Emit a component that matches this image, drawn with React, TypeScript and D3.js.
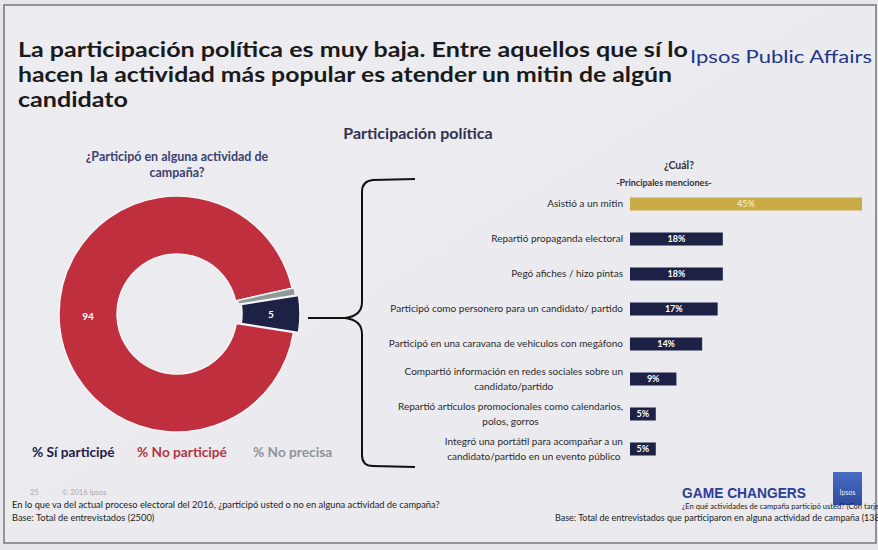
import React from "react";
import * as d3 from "d3";

// Donut: did the respondent take part in any campaign activity?
const donutLabels = ["% Sí participé", "% No participé", "% No precisa"];
const donutValues = [5, 94, 1];
const donutColors = ["#1d2146", "#bf2f3e", "#8d9c99"];
const legendColors = ["#1d2146", "#b5343f", "#8f9494"];

// Bars: main activities mentioned among participants
const activityLabels: string[][] = [
  ["Asistió a un mitin"],
  ["Repartió propaganda electoral"],
  ["Pegó afiches / hizo pintas"],
  ["Participó como personero para un candidato/ partido"],
  ["Participó en una caravana de vehiculos con megáfono"],
  ["Compartió información en redes sociales sobre un", "candidato/partido"],
  ["Repartió artículos promocionales como calendarios,", "polos, gorros"],
  ["Integró una portátil para acompañar a un", "candidato/partido en un evento público"],
];
const activityValues = [45, 18, 18, 17, 14, 9, 5, 5];

const titleLines = [
  "La participación política es muy baja. Entre aquellos que sí lo",
  "hacen la actividad más popular es atender un mitin de algún",
  "candidato",
];

const FONT = "Lato, 'Open Sans', sans-serif";

function measure(text: string, font: string): number {
  const c = document.createElement("canvas");
  const ctx = c.getContext("2d");
  if (!ctx) return text.length * 4.8;
  ctx.font = font;
  return ctx.measureText(text).width;
}

export default function App() {
  const W = 878;
  const H = 550;

  // donut geometry
  const cx = 177;
  const cy = 314;
  const outerR = 118;
  const innerR = 60;
  const deg = Math.PI / 180;
  const pie = d3
    .pie<number>()
    .sort(null)
    .startAngle(81 * deg)
    .endAngle(441 * deg);
  const arcs = pie(donutValues);
  const arc = d3.arc<d3.PieArcDatum<number>>().innerRadius(innerR).outerRadius(outerR);
  const explode = [5, 0, 2];

  // bar geometry
  const x = d3.scaleLinear().domain([0, 45]).range([630, 862]);
  const y = d3
    .scalePoint<number>()
    .domain(activityValues.map((_, i) => i))
    .range([204, 449]);
  const barH = 13;
  const labelRight = 623;
  const labelSize = 10;
  const labelFont = `${labelSize}px ${FONT}`;

  return (
    <svg
      width={W}
      height={H}
      style={{ position: "absolute", left: 0, top: 0 }}
      fontFamily={FONT}
    >
      <defs>
        <linearGradient id="bg" x1="0" y1="0" x2="1" y2="1">
          <stop offset="0" stopColor="#ededf1" />
          <stop offset="1" stopColor="#e9e9ee" />
        </linearGradient>
        <linearGradient id="logo" x1="0" y1="0" x2="0" y2="1">
          <stop offset="0" stopColor="#4a6cc0" />
          <stop offset="1" stopColor="#2f4c9e" />
        </linearGradient>
      </defs>
      <rect x={0} y={0} width={W} height={H} fill="#e6e6eb" />
      <rect x={4} y={5} width={872} height={538} fill="url(#bg)" stroke="#7d7d82" strokeWidth={1.6} />

      {/* headline */}
      {titleLines.map((t, i) => (
        <text
          key={i}
          x={18}
          y={57 + i * 25}
          fontSize={21}
          fontWeight={700}
          fill="#1a1a1a"
          textLength={i === 0 ? 670 : i === 1 ? 654 : 110}
          lengthAdjust="spacingAndGlyphs"
        >
          {t}
        </text>
      ))}
      <text x={690} y={63} fontSize={17.5} fill="#23368a" textLength={182} lengthAdjust="spacingAndGlyphs">
        Ipsos Public Affairs
      </text>

      <text x={418} y={139} fontSize={16} fontWeight={700} fill="#2f3350" textAnchor="middle">
        Participación política
      </text>

      {/* donut */}
      <text x={cx} y={161} fontSize={12.5} fontWeight={700} fill="#3b4170" textAnchor="middle">
        ¿Participó en alguna actividad de
      </text>
      <text x={cx} y={177} fontSize={12.5} fontWeight={700} fill="#3b4170" textAnchor="middle">
        campaña?
      </text>
      <g transform={`translate(${cx},${cy})`}>
        {arcs.map((a, i) => {
          const mid = (a.startAngle + a.endAngle) / 2;
          const dx = Math.sin(mid) * explode[i];
          const dy = -Math.cos(mid) * explode[i];
          return (
            <path
              key={i}
              d={arc(a) || ""}
              transform={`translate(${dx},${dy})`}
              fill={donutColors[i]}
              stroke="#f4f4f6"
              strokeWidth={1.5}
            />
          );
        })}
        {arcs.map((a, i) => {
          if (donutValues[i] < 2) return null;
          const mid = (a.startAngle + a.endAngle) / 2;
          const [lx, ly] = arc.centroid(a);
          const dx = Math.sin(mid) * explode[i];
          const dy = -Math.cos(mid) * explode[i];
          return (
            <text
              key={i}
              x={lx + dx}
              y={ly + dy + 3.5}
              fontSize={10}
              fontWeight={700}
              fill="#fff"
              textAnchor="middle"
            >
              {donutValues[i]}
            </text>
          );
        })}
      </g>

      {/* legend */}
      {donutLabels.map((l, i) => (
        <text
          key={i}
          x={[32, 137, 253][i]}
          y={457}
          fontSize={13.7}
          fontWeight={700}
          fill={legendColors[i]}
        >
          {l}
        </text>
      ))}

      {/* connector and brace */}
      <path d="M308,318 L345,318" stroke="#111" strokeWidth={2} fill="none" />
      <path
        d="M415,179 L373,180 Q362,181 362,192 L362,302 Q362,316 345,318 Q362,320 362,334 L362,455 Q362,466 373,466 L415,467"
        stroke="#111"
        strokeWidth={2}
        fill="none"
      />

      {/* bars */}
      <text x={679} y={169} fontSize={10.5} fontWeight={700} fill="#333" textAnchor="middle">
        ¿Cuál?
      </text>
      <text x={664} y={186} fontSize={9} fontWeight={700} fill="#333" textAnchor="middle">
        -Principales menciones-
      </text>
      {activityValues.map((v, i) => {
        const cyBar = y(i) as number;
        const lines = activityLabels[i];
        const first = i === 0;
        return (
          <g key={i}>
            <rect
              x={x(0)}
              y={cyBar - barH / 2}
              width={x(v) - x(0)}
              height={barH}
              fill={first ? "#c8aa46" : "#1d2146"}
            />
            <text
              x={(x(0) + x(v)) / 2}
              y={cyBar + 3.3}
              fontSize={9}
              fontWeight={700}
              fill={first ? "#f1e7b8" : "#fff"}
              textAnchor="middle"
            >
              {v}%
            </text>
            {lines.length === 1 ? (
              <text x={labelRight} y={cyBar + 3.4} fontSize={labelSize} fill="#2a2a2a" textAnchor="end">
                {lines[0]}
              </text>
            ) : (
              (() => {
                const wMax = Math.max(...lines.map((t) => measure(t, labelFont)));
                const mx = labelRight - wMax / 2;
                return lines.map((t, j) => (
                  <text
                    key={j}
                    x={mx}
                    y={cyBar - 4 + j * 14.5}
                    fontSize={labelSize}
                    fill="#2a2a2a"
                    textAnchor="middle"
                  >
                    {t}
                  </text>
                ));
              })()
            )}
          </g>
        );
      })}

      {/* footer */}
      <text x={30} y={495} fontSize={7.5} fill="#a9a9ad">
        25
      </text>
      <text x={62} y={495} fontSize={7.5} fill="#a9a9ad">
        © 2016 Ipsos
      </text>
      <text x={12} y={508} fontSize={9.3} fill="#222">
        En lo que va del actual proceso electoral del 2016, ¿participó usted o no en alguna actividad de campaña?
      </text>
      <text x={12} y={521} fontSize={9.3} fill="#222">
        Base: Total de entrevistados (2500)
      </text>

      <text x={682} y={498} fontSize={15} fontWeight={700} fill="#2b3e98" fontFamily="'Liberation Sans', Arial, sans-serif" textLength={124} lengthAdjust="spacingAndGlyphs">
        GAME CHANGERS
      </text>
      <rect x={833} y={472} width={29} height={33} fill="url(#logo)" />
      <text x={847.5} y={495} fontSize={7} fill="#e8eefc" textAnchor="middle">
        Ipsos
      </text>
      <text x={682} y={509} fontSize={7.6} fill="#222">
        ¿En qué actividades de campaña participó usted? (Con tarjeta)
      </text>
      <text x={555} y={521} fontSize={9} fill="#222">
        Base: Total de entrevistados  que participaron en alguna actividad de campaña (138)
      </text>
    </svg>
  );
}
